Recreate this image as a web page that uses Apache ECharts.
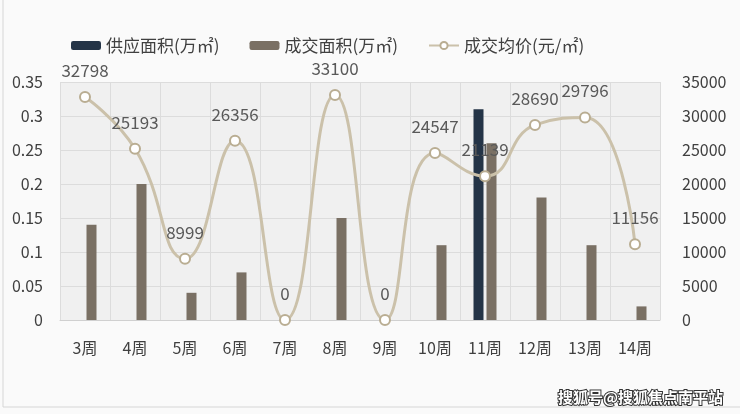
<!DOCTYPE html>
<html>
<head>
<meta charset="utf-8">
<script src="https://cdn.jsdelivr.net/npm/echarts@6/dist/echarts.min.js"></script>
<style>
  html, body { margin: 0; padding: 0; background: #fafafa; }
  #main { width: 740px; height: 414px; }
</style>
</head>
<body>
<div id="main"></div>
<script>
const weeks = ["3周", "4周", "5周", "6周", "7周", "8周", "9周", "10周", "11周", "12周", "13周", "14周"];
const supplyArea = [null, null, null, null, null, null, null, null, 0.31, null, null, null];
const dealArea = [0.14, 0.2, 0.04, 0.07, 0, 0.15, 0, 0.11, 0.26, 0.18, 0.11, 0.02];
const avgPrice = [32798, 25193, 8999, 26356, 0, 33100, 0, 24547, 21139, 28690, 29796, 11156];

const fontFamily = '"Noto Sans CJK SC", "Noto Sans", sans-serif';
const textColor = "#404040";

const chart = echarts.init(document.getElementById("main"));

const option = {
  backgroundColor: "#fafafa",
  textStyle: { fontFamily: fontFamily },
  animation: false,
  legend: {
    left: 66,
    top: 32,
    itemWidth: 30,
    itemHeight: 9,
    itemGap: 30,
    textStyle: { color: textColor, fontSize: 17, fontFamily: fontFamily },
    data: ["供应面积(万㎡)", "成交面积(万㎡)", "成交均价(元/㎡)"]
  },
  grid: {
    left: 60,
    right: 80,
    top: 82,
    bottom: 94,
    show: true,
    backgroundColor: "#f0f0f0",
    borderWidth: 0
  },
  xAxis: {
    type: "category",
    data: weeks,
    axisLine: { lineStyle: { color: "#d0d0d0" } },
    axisTick: { show: false },
    splitLine: { show: true, lineStyle: { color: "#dcdcdc" } },
    axisLabel: { color: textColor, fontSize: 16, margin: 20, fontFamily: fontFamily }
  },
  yAxis: [
    {
      type: "value",
      min: 0,
      max: 0.35,
      interval: 0.05,
      axisLine: { show: false },
      axisTick: { show: false },
      splitLine: { lineStyle: { color: "#dcdcdc" } },
      axisLabel: { color: textColor, fontSize: 16, margin: 17, fontFamily: fontFamily }
    },
    {
      type: "value",
      min: 0,
      max: 35000,
      interval: 5000,
      axisLine: { show: false },
      axisTick: { show: false },
      splitLine: { show: false },
      axisLabel: {
        color: textColor,
        fontSize: 16,
        margin: 22,
        fontFamily: fontFamily,
        formatter: (v) => String(v)
      }
    }
  ],
  series: [
    {
      name: "供应面积(万㎡)",
      type: "bar",
      data: supplyArea,
      barWidth: 10,
      barGap: "30%",
      itemStyle: { color: "#243447" }
    },
    {
      name: "成交面积(万㎡)",
      type: "bar",
      data: dealArea,
      barWidth: 10,
      barGap: "30%",
      itemStyle: { color: "#7a7064" }
    },
    {
      name: "成交均价(元/㎡)",
      type: "line",
      yAxisIndex: 1,
      data: avgPrice,
      smooth: 0.5,
      symbol: "circle",
      symbolSize: 10,
      lineStyle: { color: "#cbc1aa", width: 3 },
      itemStyle: { color: "#ffffff", borderColor: "#b9ad92", borderWidth: 2 },
      label: {
        show: true,
        position: "top",
        distance: 12,
        color: "#595959",
        fontSize: 17,
        fontFamily: fontFamily
      },
      z: 5
    }
  ],
  graphic: [
    {
      type: "rect",
      shape: { x: 3, y: -2, width: 760, height: 409 },
      style: { fill: "none", stroke: "#d6d6d6", lineWidth: 1 },
      silent: true
    },
    {
      type: "text",
      right: 16,
      top: 389,
      style: {
        text: "搜狐号@搜狐焦点南平站",
        fontSize: 15,
        fontWeight: "bold",
        fontFamily: fontFamily,
        fill: "#ffffff",
        stroke: "#333333",
        lineWidth: 2
      }
    }
  ]
};

chart.setOption(option);
</script>
</body>
</html>
